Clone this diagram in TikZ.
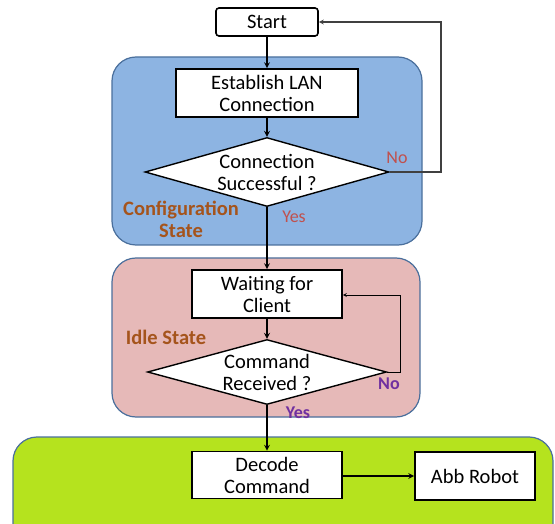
\documentclass[tikz,border=0pt]{standalone}
\usepackage{fontspec}
\setmainfont{Carlito}
\usetikzlibrary{shapes.geometric}
\definecolor{configblue}{HTML}{8DB4E2}
\definecolor{idlepink}{HTML}{E6B9B8}
\definecolor{runlime}{HTML}{B5E31E}
\definecolor{regionedge}{HTML}{4A6F9C}
\definecolor{statebrown}{HTML}{A5541C}
\definecolor{answerred}{HTML}{C0504D}
\definecolor{answerpurple}{HTML}{7030A0}
\tikzset{
  region/.style={draw=regionedge, line width=1.2pt, rounded corners=24pt, inner sep=0pt},
  stepbox/.style={draw, rectangle, fill=white, line width=1.6pt, align=center, font=\fontsize{20.5}{22}\selectfont, inner sep=0pt},
  decision/.style={draw, diamond, aspect=3.4, fill=white, line width=1.4pt, align=center, font=\fontsize{20.5}{22}\selectfont, inner sep=0pt},
  statelabel/.style={text=statebrown, font=\bfseries\fontsize{20.5}{22}\selectfont, align=center},
  answer/.style={font=\fontsize{18}{20}\selectfont}
}
\begin{document}
\begin{tikzpicture}[x=1pt, y=-1pt, >=stealth]
\useasboundingbox (0,0) rectangle (555,524);
\node[region, fill=configblue, minimum width=310pt, minimum height=188pt] (config) at (267,151) {};
\node[region, fill=idlepink, minimum width=308pt, minimum height=159pt] (idle) at (266,337.5) {};
\node[region, fill=runlime, minimum width=540pt, minimum height=123pt] (run) at (283,498.5) {};
\node[stepbox, rounded corners=3pt, minimum width=102pt, minimum height=28pt] (start) at (267,22) {Start};
\node[stepbox, minimum width=182pt, minimum height=48pt] (lan) at (267,93) {Establish LAN\\Connection};
\node[decision, minimum width=244pt, minimum height=69pt] (connok) at (267,172) {Connection\\Successful ?};
\node[stepbox, minimum width=150pt, minimum height=48pt] (wait) at (267,294) {Waiting for\\Client};
\node[decision, minimum width=239pt, minimum height=65pt] (cmdok) at (267,372) {Command\\Received ?};
\node[stepbox, minimum width=150pt, minimum height=47pt] (decode) at (267,475) {Decode\\Command};
\node[stepbox, minimum width=120pt, minimum height=48pt] (robot) at (475,476) {Abb Robot};
\node[statelabel] (configlabel) at (181,219) {Configuration\\State};
\node[statelabel] (idlelabel) at (166,337) {Idle State};
\node[answer, text=answerred] (connno) at (397,158) {No};
\node[answer, text=answerred] (connyes) at (294,217) {Yes};
\node[answer, text=answerpurple, font=\bfseries\fontsize{18}{20}\selectfont] (cmdno) at (389,384) {No};
\node[answer, text=answerpurple, font=\bfseries\fontsize{18}{20}\selectfont] (cmdyes) at (298,413) {Yes};
\coordinate (retry) at (441,22);
\coordinate (poll) at (400,295);
\draw[->, line width=1.6pt] (start) -- (lan);
\draw[->, line width=1.6pt] (lan) -- (connok);
\draw[->, line width=1.6pt] (connok) -- (wait);
\draw[->, line width=1.6pt] (wait) -- (cmdok);
\draw[->, line width=1.6pt] (cmdok) -- (decode);
\draw[->, line width=1.6pt] (decode.east |- robot) -- (robot);
\draw[->, line width=1.2pt, draw=black!75] (connok.east) -| (retry) -- (start.east);
\draw[->, line width=0.8pt] (cmdok.east) -| (poll) -- (wait.east |- poll);
\end{tikzpicture}
\end{document}
